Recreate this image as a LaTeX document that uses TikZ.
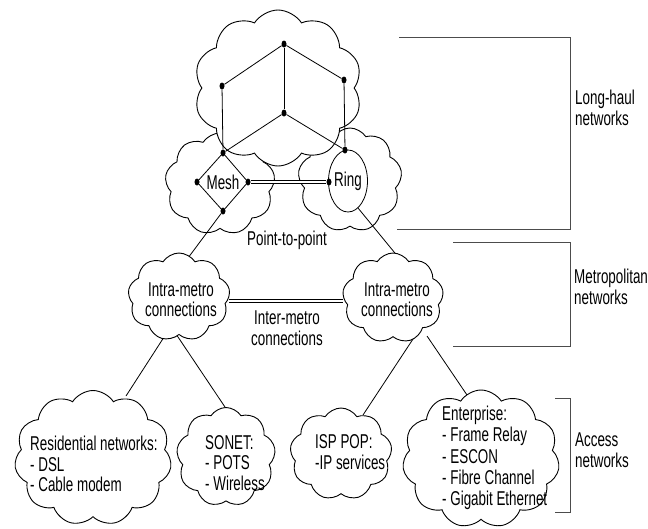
\documentclass[tikz,border=0pt]{standalone}
\usepackage{fontspec}
\setmainfont[FakeStretch=0.67]{Liberation Sans}
\usetikzlibrary{shapes.symbols,shapes.geometric}
\begin{document}
\begin{tikzpicture}[x=1pt,y=-1pt,
  cloudbox/.style={cloud, cloud puffs=10, cloud puff arc=115, aspect=1, cloud ignores aspect, draw=black, line width=0.9pt, fill=white, inner sep=0pt},
  vtx/.style={ellipse, fill=black, inner sep=0pt, minimum width=5pt, minimum height=7pt},
  lbl/.style={font=\fontsize{20}{20.5}\selectfont, inner sep=0pt},
  lst/.style={lbl, align=left, anchor=west},
  edge/.style={line width=0.8pt},
  brk/.style={line width=0.9pt, draw=black!70},
  dbl/.style={double, double distance=2pt, line width=0.7pt}
]
\useasboundingbox (0,0) rectangle (648,528);

% connector end points
\coordinate (p1) at (188,258);
\coordinate (p2) at (399,258);
\coordinate (rb) at (358,208);
\coordinate (q1) at (166,334);
\coordinate (q2) at (176,334);
\coordinate (q3) at (415,336);
\coordinate (q4) at (427,336);
\coordinate (s1) at (126,396);
\coordinate (s2) at (229,413);
\coordinate (s3) at (363,415);
\coordinate (s4) at (467,395);

% mid-level clouds
\node[cloudbox, cloud puffs=9, minimum width=110pt, minimum height=102pt] (meshc) at (220,184) {};
\node[cloudbox, cloud puffs=9, minimum width=104pt, minimum height=104pt] (ringc) at (350,180) {};
% top cloud
\node[cloudbox, minimum width=168pt, minimum height=156pt] (topc) at (278,88) {};

% cube vertices
\node[vtx] (ct) at (284,44) {};
\node[vtx] (cul) at (222,86) {};
\node[vtx] (cur) at (344,80) {};
\node[vtx] (cc) at (284,113) {};
\node[vtx] (mt) at (223,153) {};
\node[vtx] (rt) at (345,150) {};
\node[vtx] (ml) at (197,182) {};
\node[vtx] (mr) at (248,182) {};
\node[vtx] (mb) at (223,211) {};

\draw[edge] (ct) -- (cul) -- (mt);
\draw[edge] (ct) -- (cur) -- (rt);
\draw[edge] (ct) -- (cc);
\draw[edge] (cc) -- (mt);
\draw[edge] (cc) -- (rt);
\draw[edge] (mt) -- (ml) -- (mb) -- (mr) -- (mt);

\node[lbl] (meshl) at (223,182) {Mesh};
\node[ellipse, draw, line width=0.8pt, minimum width=38pt, minimum height=62pt, inner sep=0pt, font=\fontsize{20}{22}\selectfont] (ring) at (348,181) {Ring};
\node[vtx] (rl) at (329,182) {};
\draw[dbl] (mr) -- (rl);

% connectors down
\draw[edge] (mb) -- (p1);
\draw[edge] (rb) -- (p2);
\node[lbl] (ptp) at (287,240) {Point-to-point};

\draw[edge] (q1) -- (s1);
\draw[edge] (q2) -- (s2);
\draw[edge] (q3) -- (s3);
\draw[edge] (q4) -- (s4);

% metro clouds
\node[cloudbox, cloud puffs=9, minimum width=102pt, minimum height=88pt] (iml) at (179,297) {};
\node[cloudbox, cloud puffs=9, minimum width=101pt, minimum height=90pt] (imr) at (393,298) {};
\node[lbl, align=center, font=\fontsize{20}{20}\selectfont] (imlt) at (181,300) {Intra-metro\\connections};
\node[lbl, align=center, font=\fontsize{20}{20}\selectfont] (imrt) at (397,300) {Intra-metro\\connections};
\draw[dbl] (iml.east |- 0,301) -- (imr.west |- 0,301);
\node[lbl, align=center, font=\fontsize{20}{21}\selectfont] (inter) at (287,328) {Inter-metro\\connections};

% access clouds
\node[cloudbox, cloud puffs=11, minimum width=157pt, minimum height=135pt] (resc) at (93,458) {};
\node[cloudbox, cloud puffs=9, minimum width=99pt, minimum height=99pt] (sonc) at (226,457) {};
\node[cloudbox, cloud puffs=9, minimum width=102pt, minimum height=92pt] (ispc) at (341,454) {};
\node[cloudbox, cloud puffs=11, minimum width=157pt, minimum height=138pt] (entc) at (481,459) {};

\node[lst] (rest) at (30,464) {Residential networks:\\- DSL\\- Cable modem};
\node[lst] (sont) at (205,463) {SONET:\\- POTS\\- Wireless};
\node[lst] (ispt) at (315,452) {ISP POP:\\-IP services};
\node[lst, font=\fontsize{20}{21.2}\selectfont] (entt) at (442,458) {Enterprise:\\- Frame Relay\\- ESCON\\- Fibre Channel\\- Gigabit Ethernet};

% brackets
\draw[brk] (399,37) -- (570,37) -- (570,229) -- (397,229);
\draw[brk] (453,242) -- (570,242) -- (570,346) -- (453,346);
\draw[brk] (555,398) -- (570,398) -- (570,512) -- (555,512);
\node[lst] (lh) at (575,108) {Long-haul\\networks};
\node[lst] (mn) at (574,287) {Metropolitan\\networks};
\node[lst] (an) at (575,450) {Access\\networks};
\end{tikzpicture}
\end{document}
